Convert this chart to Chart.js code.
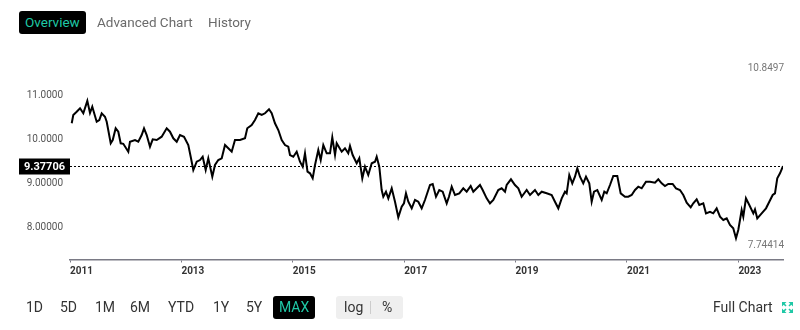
<!DOCTYPE html>
<html>
<head>
<meta charset="utf-8">
<script src="https://cdn.jsdelivr.net/npm/chart.js@4/dist/chart.umd.min.js"></script>
<style>
  html, body { margin: 0; padding: 0; background: #fff; }
  body { width: 800px; height: 330px; position: relative; overflow: hidden; font-family: 'Roboto', sans-serif; }
  #chart { position: absolute; left: 0; top: 0; }
  .tab { position: absolute; top: 11px; height: 23px; line-height: 23px; font-size: 13.5px; color: #6b6b6b; white-space: nowrap; }
  .tab.on { background: #000; color: #1fc8a6; border-radius: 3px; padding: 0 6px; left: 19px; }
  .btn { position: absolute; top: 296px; height: 23px; line-height: 23px; font-size: 14px; color: #333; white-space: nowrap; }
  .btn.on { background: #000; color: #1fc8a6; border-radius: 3px; padding: 0 6px; }
  .scale-box { position: absolute; left: 336px; top: 296px; width: 67px; height: 23px; background: #efefef; border-radius: 3px; }
  .scale-box span { position: absolute; top: 0; line-height: 23px; font-size: 14px; color: #333; }
  .scale-box i { position: absolute; left: 34px; top: 5px; width: 1px; height: 13px; background: #ccc; }
  .full { position: absolute; left: 713px; top: 296px; line-height: 23px; font-size: 14px; color: #333; }
  .full svg { position: absolute; left: 69px; top: 6px; }
</style>
</head>
<body>
<canvas id="chart" width="800" height="330"></canvas>

<div class="tab on">Overview</div>
<div class="tab" style="left:97px">Advanced Chart</div>
<div class="tab" style="left:208px">History</div>

<div class="btn" style="left:26px">1D</div>
<div class="btn" style="left:60px">5D</div>
<div class="btn" style="left:95px">1M</div>
<div class="btn" style="left:130px">6M</div>
<div class="btn" style="left:168px">YTD</div>
<div class="btn" style="left:213px">1Y</div>
<div class="btn" style="left:246px">5Y</div>
<div class="btn on" style="left:273px">MAX</div>
<div class="scale-box"><span style="left:8px">log</span><i></i><span style="left:46px">%</span></div>
<div class="full">Full Chart
  <svg width="11" height="11" viewBox="0 0 11 11">
    <g stroke="#1fc8a6" stroke-width="1.6" fill="none">
      <path d="M1 1 L4 4 M7 7 L10 10 M10 1 L7 4 M1 10 L4 7"/>
    </g>
    <g fill="#1fc8a6">
      <path d="M0 0 H4.5 L0 4.5 Z"/><path d="M11 0 V4.5 L6.5 0 Z"/>
      <path d="M0 11 V6.5 L4.5 11 Z"/><path d="M11 11 H6.5 L11 6.5 Z"/>
    </g>
  </svg>
</div>

<script>
// Exchange rate history, decimal years
const dates = [
  2011.031, 2011.059, 2011.120, 2011.180, 2011.239, 2011.311, 2011.359, 2011.400, 2011.479, 2011.526,
  2011.569, 2011.628, 2011.659, 2011.731, 2011.767, 2011.820, 2011.867, 2011.910, 2011.957, 2012.047,
  2012.077, 2012.167, 2012.226, 2012.287, 2012.329, 2012.377, 2012.436, 2012.485, 2012.557, 2012.646,
  2012.736, 2012.795, 2012.855, 2012.916, 2012.975, 2013.047, 2013.124, 2013.167, 2013.214, 2013.275,
  2013.334, 2013.382, 2013.436, 2013.483, 2013.555, 2013.603, 2013.662, 2013.724, 2013.783, 2013.842,
  2013.903, 2013.962, 2014.052, 2014.142, 2014.183, 2014.262, 2014.321, 2014.381, 2014.442, 2014.501,
  2014.573, 2014.621, 2014.680, 2014.740, 2014.801, 2014.860, 2014.919, 2014.950, 2015.009, 2015.070,
  2015.129, 2015.178, 2015.219, 2015.264, 2015.309, 2015.357, 2015.399, 2015.458, 2015.501, 2015.548,
  2015.609, 2015.668, 2015.709, 2015.758, 2015.788, 2015.878, 2015.937, 2015.996, 2016.027, 2016.075,
  2016.147, 2016.194, 2016.248, 2016.296, 2016.355, 2016.417, 2016.476, 2016.506, 2016.553, 2016.596,
  2016.625, 2016.673, 2016.715, 2016.776, 2016.835, 2016.894, 2016.955, 2016.996, 2017.032, 2017.074,
  2017.135, 2017.194, 2017.253, 2017.314, 2017.373, 2017.463, 2017.512, 2017.571, 2017.630, 2017.691,
  2017.763, 2017.804, 2017.853, 2017.912, 2017.989, 2018.061, 2018.122, 2018.194, 2018.241, 2018.302,
  2018.361, 2018.409, 2018.481, 2018.540, 2018.600, 2018.689, 2018.750, 2018.810, 2018.840, 2018.917,
  2018.989, 2019.049, 2019.109, 2019.199, 2019.259, 2019.348, 2019.408, 2019.469, 2019.558, 2019.648,
  2019.707, 2019.767, 2019.828, 2019.887, 2019.917, 2019.964, 2020.018, 2020.066, 2020.108, 2020.156,
  2020.215, 2020.264, 2020.323, 2020.366, 2020.408, 2020.467, 2020.546, 2020.593, 2020.636, 2020.695,
  2020.754, 2020.826, 2020.887, 2020.964, 2021.023, 2021.084, 2021.144, 2021.203, 2021.264, 2021.341,
  2021.413, 2021.503, 2021.562, 2021.623, 2021.682, 2021.741, 2021.820, 2021.880, 2021.951, 2022.011,
  2022.072, 2022.144, 2022.190, 2022.251, 2022.298, 2022.370, 2022.418, 2022.490, 2022.549, 2022.610,
  2022.670, 2022.729, 2022.790, 2022.849, 2022.908, 2022.957, 2022.998, 2023.059, 2023.088, 2023.136,
  2023.196, 2023.268, 2023.298, 2023.339, 2023.418, 2023.496, 2023.555, 2023.616, 2023.657, 2023.698,
  2023.747, 2023.801
];
const rates = [
  10.343, 10.531, 10.605, 10.682, 10.569, 10.8497, 10.576, 10.718, 10.379, 10.418,
  10.569, 10.492, 10.379, 9.891, 9.965, 10.230, 10.153, 9.891, 9.880, 9.701,
  9.927, 9.965, 9.927, 10.078, 10.230, 10.078, 9.814, 9.981, 9.965, 10.040,
  10.230, 10.153, 10.004, 9.927, 10.078, 10.040, 9.852, 9.588, 9.287, 9.475,
  9.513, 9.588, 9.287, 9.552, 9.136, 9.400, 9.513, 9.552, 9.852, 9.778,
  9.701, 9.965, 9.965, 10.004, 10.230, 10.305, 10.418, 10.569, 10.531, 10.569,
  10.660, 10.569, 10.343, 10.191, 9.965, 9.852, 9.814, 9.626, 9.588, 9.701,
  9.475, 9.362, 9.665, 9.249, 9.213, 9.099, 9.400, 9.739, 9.513, 9.852,
  9.665, 9.665, 10.026, 9.626, 9.891, 9.701, 9.778, 9.665, 9.830, 9.626,
  9.439, 9.552, 9.099, 9.362, 9.174, 9.439, 9.475, 9.588, 9.362, 8.835,
  8.683, 8.797, 8.647, 8.873, 8.570, 8.218, 8.457, 8.534, 8.760, 8.570,
  8.421, 8.609, 8.570, 8.421, 8.609, 8.948, 8.971, 8.683, 8.835, 8.797,
  8.534, 8.683, 8.910, 8.722, 8.760, 8.873, 8.797, 8.925, 8.797, 8.873,
  8.948, 8.835, 8.647, 8.534, 8.609, 8.835, 8.873, 8.797, 8.948, 9.077,
  8.948, 8.873, 8.683, 8.835, 8.722, 8.835, 8.722, 8.797, 8.760, 8.722,
  8.570, 8.421, 8.647, 8.797, 8.760, 9.174, 8.986, 9.136, 9.326, 9.136,
  8.986, 9.136, 8.986, 8.570, 8.797, 8.835, 8.609, 8.797, 8.760, 8.948,
  9.151, 9.151, 8.760, 8.683, 8.683, 8.722, 8.835, 8.910, 8.873, 9.023,
  9.023, 9.000, 9.077, 8.986, 8.925, 8.971, 8.971, 8.873, 8.835, 8.722,
  8.548, 8.444, 8.534, 8.625, 8.496, 8.534, 8.308, 8.344, 8.308, 8.421,
  8.231, 8.157, 8.195, 8.044, 7.969, 7.74414, 7.931, 8.383, 8.231, 8.647,
  8.496, 8.308, 8.399, 8.195, 8.308, 8.421, 8.570, 8.722, 8.760, 9.099,
  9.213, 9.37706
];
const yearTicks = [2011, 2013, 2015, 2017, 2019, 2021, 2023];
const rateTicks = [8, 9, 10, 11];

const FONT = "'Roboto', sans-serif";
const points = dates.map((d, i) => ({ x: d, y: rates[i] }));
const lastRate = rates[rates.length - 1];
const maxRate = Math.max(...rates);
const minRate = Math.min(...rates);

// Dotted last-price line, its tag on the left, and range labels on the right
const pricePlugin = {
  id: 'priceMarkers',
  afterDatasetsDraw(chart) {
    const { ctx, chartArea: a, scales } = chart;
    const y = Math.round(scales.y.getPixelForValue(lastRate)) + 0.5;
    ctx.save();
    ctx.strokeStyle = '#000';
    ctx.lineWidth = 1;
    ctx.setLineDash([2, 2]);
    ctx.beginPath();
    ctx.moveTo(a.left, y);
    ctx.lineTo(a.right, y);
    ctx.stroke();
    ctx.setLineDash([]);

    ctx.fillStyle = '#000';
    ctx.fillRect(19, y - 8, a.left - 19, 16);
    ctx.fillStyle = '#fff';
    ctx.font = `bold 11px ${FONT}`;
    ctx.textAlign = 'center';
    ctx.textBaseline = 'middle';
    ctx.fillText(lastRate.toPrecision(6), (19 + a.left) / 2, y + 0.5);

    ctx.fillStyle = '#777';
    ctx.font = `10px ${FONT}`;
    ctx.textAlign = 'right';
    ctx.fillText(maxRate.toPrecision(6), a.right + 1, a.top + 8);
    ctx.fillText(minRate.toPrecision(6), a.right + 1, a.bottom - 14);
    ctx.restore();
  }
};

new Chart(document.getElementById('chart'), {
  type: 'line',
  data: {
    datasets: [{
      data: points,
      borderColor: '#000',
      borderWidth: 2,
      pointRadius: 0,
      tension: 0,
      fill: false
    }]
  },
  options: {
    responsive: false,
    devicePixelRatio: 1,
    animation: false,
    layout: { padding: { top: 60, right: 17, left: 0, bottom: 0 } },
    plugins: { legend: { display: false }, tooltip: { enabled: false } },
    scales: {
      x: {
        type: 'linear',
        min: 2011,
        max: dates[dates.length - 1],
        afterBuildTicks: s => { s.ticks = yearTicks.map(v => ({ value: v })); },
        afterFit: s => { s.height = 70.5; },
        grid: { drawOnChartArea: false, drawTicks: true, tickLength: 3, color: '#7a7a85', lineWidth: 1 },
        border: { display: true, color: '#7a7a85', width: 1.5 },
        ticks: {
          align: 'start',
          padding: 3,
          maxRotation: 0,
          autoSkip: false,
          color: '#333',
          font: { family: FONT, size: 10, weight: 'bold' },
          callback: v => String(v)
        }
      },
      y: {
        type: 'linear',
        min: 7.264,
        max: 11.774,
        afterBuildTicks: s => { s.ticks = rateTicks.map(v => ({ value: v })); },
        afterFit: s => { s.width = 70; },
        grid: { display: false, drawTicks: false },
        border: { display: false },
        ticks: {
          padding: 7,
          labelOffset: 1,
          color: '#555',
          font: { family: FONT, size: 10 },
          callback: v => Number(v).toPrecision(6)
        }
      }
    }
  },
  plugins: [pricePlugin]
});
</script>
</body>
</html>
